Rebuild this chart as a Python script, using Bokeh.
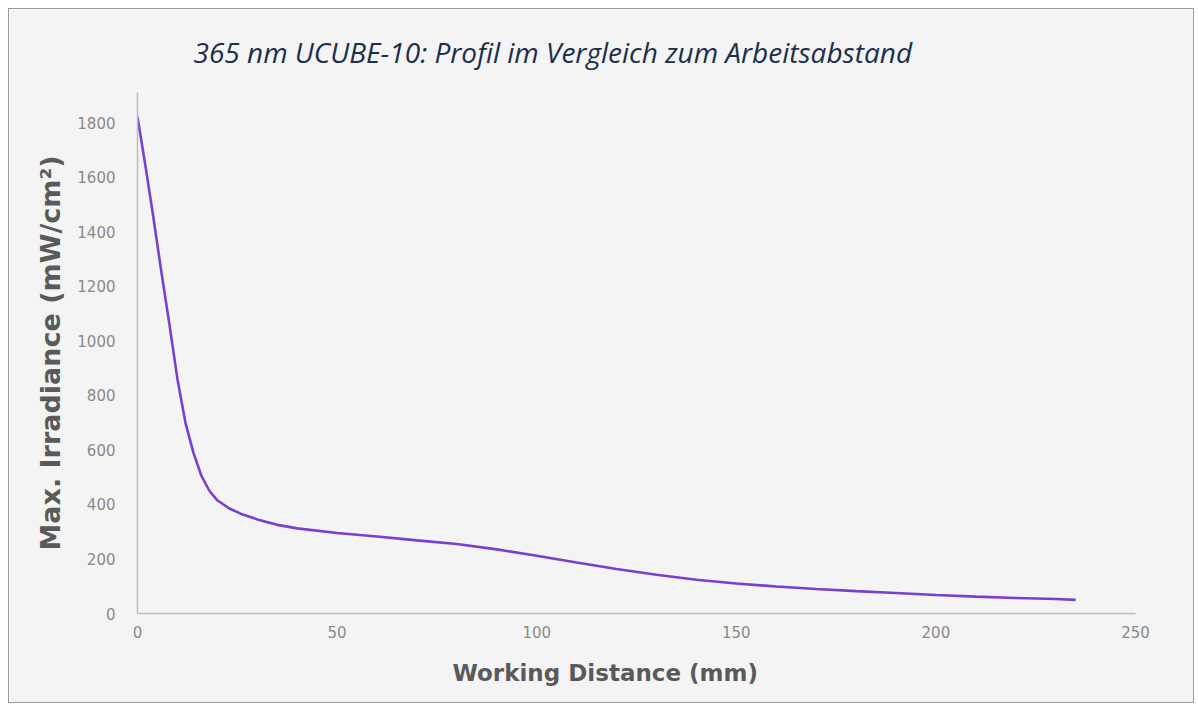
from bokeh.plotting import figure
from bokeh.embed import file_html
from bokeh.resources import INLINE
from bokeh.models import Range1d, Title, FixedTicker

# Data
distance_mm = [0, 2, 4, 6, 8, 10, 12, 14, 16, 18, 20, 23, 26, 30, 35, 40, 50, 60, 70,
               80, 90, 100, 110, 120, 130, 140, 150, 160, 170, 180, 190, 200, 210, 220, 230, 235]
irradiance = [1820, 1640, 1450, 1250, 1060, 860, 700, 590, 505, 450, 415, 385, 365, 345, 325,
              312, 295, 282, 268, 255, 235, 212, 187, 163, 142, 124, 110, 99, 90, 82, 75, 68,
              62, 57, 53, 50]
x_ticks = [0, 50, 100, 150, 200, 250]
y_ticks = [0, 200, 400, 600, 800, 1000, 1200, 1400, 1600, 1800]

title_text = "365 nm UCUBE-10: Profil im Vergleich zum Arbeitsabstand"
x_label = "Working Distance (mm)"
y_label = "Max. Irradiance (mW/cm\u00b2)"

bg = "#f4f4f4"
p = figure(width=1186, height=695, output_backend="svg", toolbar_location=None,
           x_range=Range1d(0, 250), y_range=Range1d(0, 1910),
           background_fill_color=bg, border_fill_color=bg,
           min_border_left=128, min_border_right=60, min_border_top=81, min_border_bottom=91)
p.styles = {"border": "1px solid #9a9a9a", "margin-left": "8px", "margin-top": "8px"}
p.outline_line_color = None
p.grid.visible = False

p.title.text = title_text
p.title.align = "left"
p.title.offset = 56
p.title.text_font = "Open Sans"
p.title.text_font_style = "italic"
p.title.text_font_size = "28px"
p.title.text_color = "#1b2f4b"
p.title.standoff = 43

p.line(distance_mm, irradiance, line_color="#7a3fd0", line_width=2.6)

for ax in (p.xaxis[0], p.yaxis[0]):
    ax.axis_line_color = "#bdbdbd"
    ax.axis_line_width = 1.5
    ax.major_tick_line_color = None
    ax.minor_tick_line_color = None
    ax.major_label_text_font = "DejaVu Sans"
    ax.major_label_text_font_size = "15px"
    ax.major_label_text_color = "#8a8a8a"

p.xaxis.ticker = FixedTicker(ticks=x_ticks)
p.yaxis.ticker = FixedTicker(ticks=y_ticks)
p.xaxis.major_label_standoff = 6
p.yaxis.major_label_standoff = 16

p.yaxis.axis_label = y_label
p.yaxis.axis_label_text_font = "DejaVu Sans"
p.yaxis.axis_label_text_font_style = "bold"
p.yaxis.axis_label_text_font_size = "27px"
p.yaxis.axis_label_text_color = "#5a5a5a"
p.yaxis.axis_label_standoff = 8

# x-axis label as a left-aligned title below the axis (offset from the frame's left edge)
xt = Title(text=x_label, align="left", offset=315, text_font="DejaVu Sans",
           text_font_style="bold", text_font_size="23px", text_color="#5a5a5a", standoff=35)
p.add_layout(xt, "below")

open("out.html", "w").write(file_html(p, INLINE))
